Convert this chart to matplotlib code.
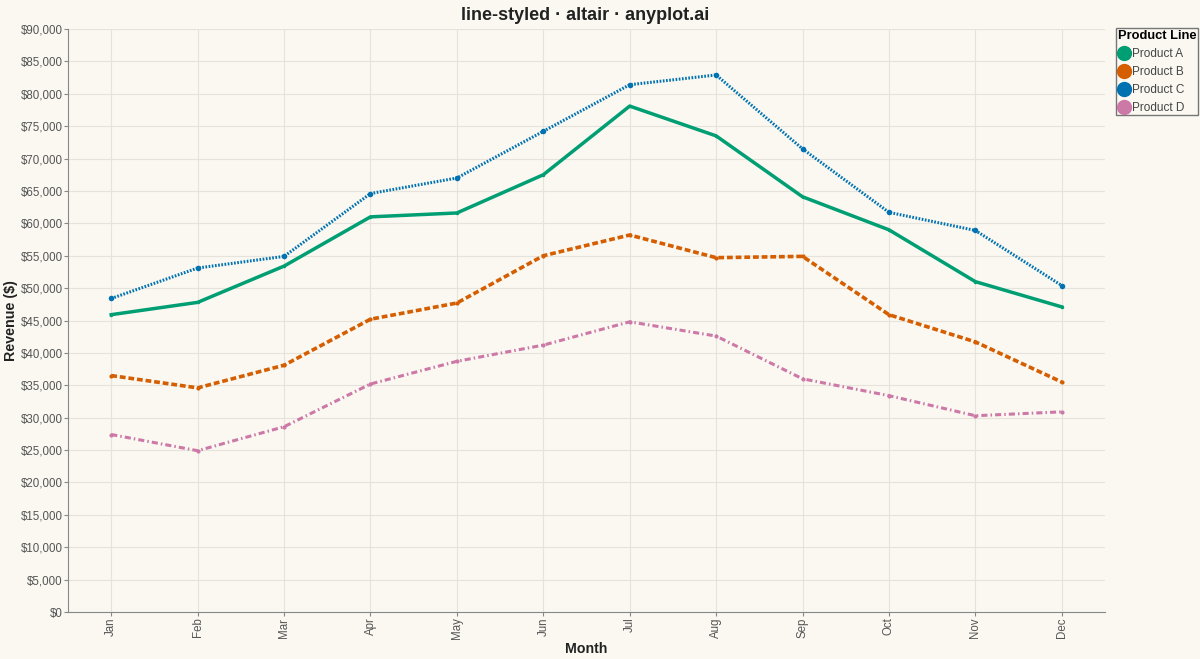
import matplotlib.pyplot as plt
from matplotlib.lines import Line2D
from matplotlib.ticker import FuncFormatter, MultipleLocator

plt.rcParams['font.family'] = ['Liberation Sans', 'DejaVu Sans']

months = ["Jan", "Feb", "Mar", "Apr", "May", "Jun", "Jul", "Aug", "Sep", "Oct", "Nov", "Dec"]
product_a = [45900, 47800, 53400, 61000, 61600, 67500, 78100, 73500, 64100, 59000, 51000, 47100]
product_b = [36500, 34600, 38100, 45200, 47700, 55000, 58200, 54700, 54900, 45900, 41700, 35500]
product_c = [48400, 53100, 54900, 64600, 67000, 74200, 81400, 82900, 71500, 61700, 58900, 50400]
product_d = [27400, 24900, 28600, 35200, 38700, 41200, 44800, 42600, 36000, 33400, 30300, 30900]

names = ["Product A", "Product B", "Product C", "Product D"]
series = [product_a, product_b, product_c, product_d]
colors = ["#009E73", "#D55E00", "#0072B2", "#CC79A7"]
styles = ["-", (0, (1.6, 0.8)), (0, (0.55, 0.5)), (0, (2.0, 1.0, 0.5, 1.0))]
widths = [2.5, 2.6, 2.2, 2.2]
msizes = [2.5, 3, 4, 3]

bg = "#FAF8F1"
fig = plt.figure(figsize=(12, 6.59), dpi=100, facecolor=bg)
ax = fig.add_axes([0.0567, 0.0713, 0.8641, 0.8847], facecolor=bg)

x = range(len(months))
for name, vals, c, ls, lw, ms in zip(names, series, colors, styles, widths, msizes):
    ax.plot(x, vals, color=c, linestyle=ls, linewidth=lw, marker="o",
            markersize=ms, markeredgewidth=0, label=name, zorder=3)

ax.set_xlim(-0.5, len(months) - 0.5)
ax.set_ylim(0, 90000)
ax.yaxis.set_major_locator(MultipleLocator(5000))
ax.yaxis.set_major_formatter(FuncFormatter(lambda v, p: f"${v:,.0f}"))
ax.set_xticks(list(x))
ax.set_xticklabels(months, rotation=90)

ax.grid(True, color="#e6e3dc", linewidth=0.8, zorder=0)
ax.set_axisbelow(True)
for s in ["top", "right"]:
    ax.spines[s].set_visible(False)
for s in ["left", "bottom"]:
    ax.spines[s].set_color("#888888")
ax.tick_params(axis="both", colors="#888888", labelcolor="#555555", labelsize=8.3,
               length=3, pad=1)

ax.set_xlabel("Month", fontsize=10.2, fontweight="bold", color="#222222")
ax.set_ylabel("Revenue ($)", fontsize=10.3, fontweight="bold", color="#222222")
ax.xaxis.set_label_coords(0.5, -0.052)
ax.yaxis.set_label_coords(-0.048, 0.5)
fig.suptitle("line-styled · altair · anyplot.ai", fontsize=13, fontweight="bold",
             color="#222222", x=0.488, y=0.99)

handles = [Line2D([], [], linestyle="none", marker="o", markersize=10,
                  markerfacecolor=c, markeredgecolor=c) for c in colors]
leg = fig.legend(handles, names, title="Product Line", loc="upper left",
                 bbox_to_anchor=(0.930, 0.957), frameon=True, fontsize=8.5,
                 title_fontproperties={"weight": "bold", "size": 9.3},
                 handletextpad=0.2, borderpad=0.15, labelspacing=0.5,
                 handlelength=1.0, fancybox=False, borderaxespad=0)
leg.get_frame().set_edgecolor("#555555")
leg.get_frame().set_facecolor(bg)
leg._legend_box.align = "left"
for t in leg.get_texts():
    t.set_color("#444444")

fig.savefig("out.png", dpi=100, facecolor=bg)
